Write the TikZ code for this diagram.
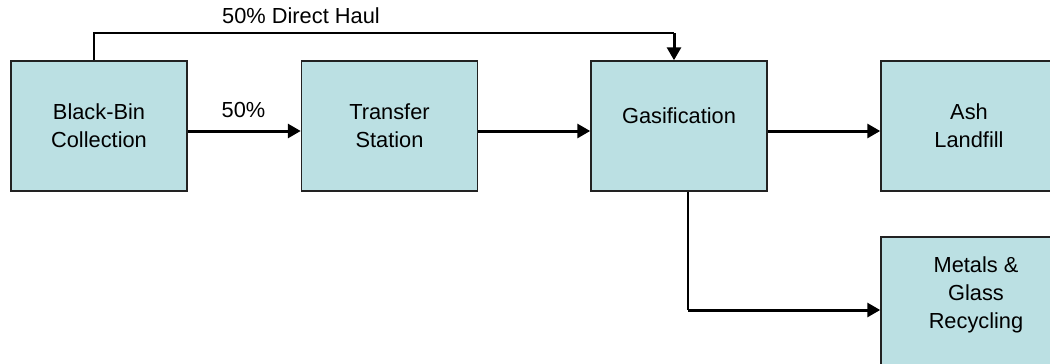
\documentclass[tikz,border=0pt]{standalone}
\usepackage{fontspec}
\setmainfont{Liberation Sans}
\usetikzlibrary{arrows.meta}
\definecolor{boxfill}{HTML}{BBE0E3}
\definecolor{boxline}{HTML}{222222}
\tikzset{
  procbox/.style={draw=boxline, fill=boxfill, line width=0.75pt, minimum width=88pt, minimum height=65pt, inner sep=0pt, align=center, font=\fontsize{10.9pt}{14pt}\selectfont},
  txt/.style={inner sep=0pt, align=center, font=\fontsize{10.9pt}{14pt}\selectfont},
  thinline/.style={draw=black, line width=0.75pt},
  flow/.style={draw=black, line width=1.5pt, -{Triangle[length=6.5pt,width=7pt]}},
}
\begin{document}
\begin{tikzpicture}[x=0.5pt,y=-0.5pt]
\useasboundingbox (0,0) rectangle (1050,364);
\clip (0,0) rectangle (1050,364);
\node[procbox] (bb) at (99,126) {Black-Bin\\Collection};
\node[procbox] (ts) at (389.5,126) {Transfer\\Station};
\node[procbox] (gas) at (679,126) {};
\node[txt] (gastxt) at (679,116) {Gasification};
\node[procbox] (ash) at (969,126) {Ash\\Landfill};
\node[procbox] (met) at (969,302) {};
\node[txt] (mettxt) at (976,295) {Metals \&\\Glass\\Recycling};
\node[txt] (dhlab) at (301,15.5) {50\% Direct Haul};
\node[txt] (pclab) at (243.5,109.5) {50\%};
\coordinate (dh1) at (94,33);
\coordinate (dh2) at (674,33);
\coordinate (gm) at (688,310);
\draw[thinline] (bb.north -| dh1) -- (dh1) -- (dh2);
\draw[flow] (dh2) -- (gas.north -| dh2);
\draw[flow] (bb.east |- 0,131) -- (ts.west |- 0,131);
\draw[flow] (ts.east |- 0,131) -- (gas.west |- 0,131);
\draw[flow] (gas.east |- 0,131) -- (ash.west |- 0,131);
\draw[thinline] (gas.south -| gm) -- (gm);
\draw[flow] (gm) -- (met.west |- gm);
\end{tikzpicture}
\end{document}
